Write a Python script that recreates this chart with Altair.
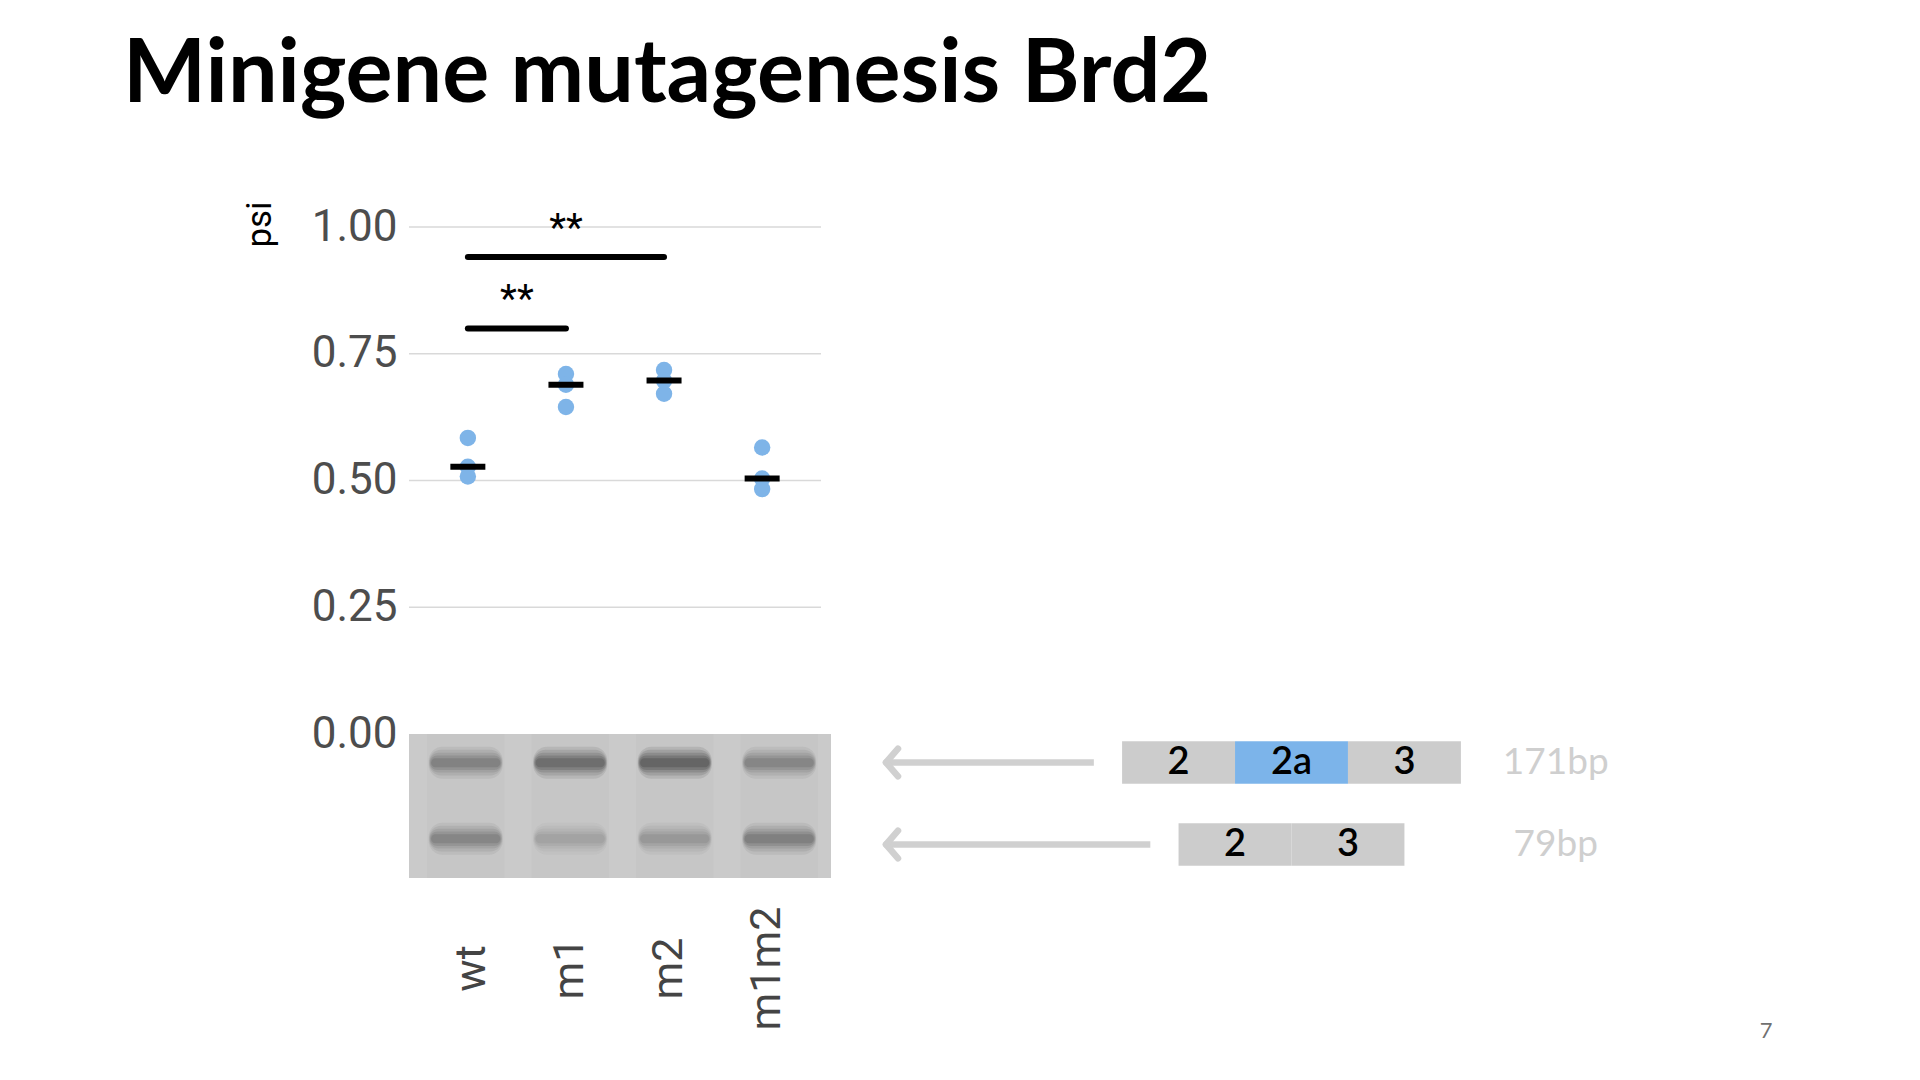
import json
import altair as alt
import pandas as pd

# ---------------- data ----------------
genotypes = ["wt", "m1", "m2", "m1m2"]
psi_wt = [0.584, 0.527, 0.508]
psi_m1 = [0.710, 0.689, 0.645]
psi_m2 = [0.718, 0.697, 0.671]
psi_m1m2 = [0.565, 0.504, 0.483]
psi_ticks = [0.0, 0.25, 0.5, 0.75, 1.0]

cmp_from = ["wt", "wt"]
cmp_to = ["m1", "m2"]
cmp_height = [0.80, 0.941]
cmp_label = ["**", "**"]

gel_rows = ["171bp", "79bp"]
band_171 = [0.55, 0.80, 0.92, 0.50]
band_79 = [0.50, 0.25, 0.33, 0.56]

iso_171 = ["2", "2a", "3"]
iso_79 = ["2", "3"]
exon_names = ["2", "2a", "3"]
page_number = "7"

# ---------------- layout / style constants ----------------
W, H = 1210, 651            # whole plot area (dot plot + gel + diagram)
DOT_W, DOT_H = 412, 507     # dot-plot panel
DOT_PAD = 0.6
LANE_STEP, LANE0 = 104.5, 56.7     # gel lane spacing / first lane centre (px)
GEL_W, GEL_H = 422, 144
GEL_ROW_STEP, GEL_ROW0 = 76, 28.7
DIA_UNIT, DIA_ZERO = 112.94, 882.5
DIA_ROW_STEP, DIA_ROW0 = 82, 28.5
ARROW_TIP = -3.59
ARROW_GAP = 0.25
BP_LABEL_X = 2.34
EXON_COLORS = ["#cccccc", "#7cb4ea", "#cccccc"]
FONT = "Roboto"
TFONT = "Lato"

# ---------------- tables ----------------
pts = pd.DataFrame(
    [
        {"genotype": g, "idx": i, "psi": v}
        for i, (g, vals) in enumerate(zip(genotypes, [psi_wt, psi_m1, psi_m2, psi_m1m2]))
        for v in vals
    ]
)
grid = pd.DataFrame({"g": [v for v in psi_ticks if v > 0]})
grid["x0"] = -DOT_PAD
grid["x1"] = len(genotypes) - 1 + DOT_PAD
cmp = pd.DataFrame(
    {
        "x1": [genotypes.index(a) for a in cmp_from],
        "x2": [genotypes.index(b) for b in cmp_to],
        "y": cmp_height,
        "label": cmp_label,
    }
)
cmp["xm"] = (cmp["x1"] + cmp["x2"]) / 2

gel = pd.DataFrame(
    [{"lane": g, "li": i, "ri": 0, "intensity": v} for i, (g, v) in enumerate(zip(genotypes, band_171))]
    + [{"lane": g, "li": i, "ri": 1, "intensity": v} for i, (g, v) in enumerate(zip(genotypes, band_79))]
)
lanes = pd.DataFrame({"lane": genotypes, "li": range(len(genotypes))})

exons = []
arrows = []
for ri, (row, iso) in enumerate(zip(gel_rows, [iso_171, iso_79])):
    n = len(iso)
    for i, ex in enumerate(iso):
        s = i - n / 2
        exons.append({"row": row, "ri": ri, "exon": ex, "start": s, "end": s + 1, "mid": s + 0.5})
    arrows.append({"row": row, "ri": ri, "tip": ARROW_TIP, "end": -n / 2 - ARROW_GAP, "lx": BP_LABEL_X})
exons = pd.DataFrame(exons)
arrows = pd.DataFrame(arrows)
heads = pd.concat([arrows.assign(side=-1), arrows.assign(side=1)], ignore_index=True)

# ---------------- scales ----------------
dot_step = DOT_W / (len(genotypes) - 1 + 2 * DOT_PAD)
xs_dot = alt.Scale(domain=[-DOT_PAD, -DOT_PAD + W / dot_step], nice=False, zero=False)
ys_dot = alt.Scale(domain=[1 - H / DOT_H, 1], nice=False, zero=False)

gel_x0 = -LANE0 / LANE_STEP
gel_x1 = (GEL_W - LANE0) / LANE_STEP
xs_gel = alt.Scale(domain=[gel_x0, (W - LANE0) / LANE_STEP], nice=False, zero=False)
gel_top = DOT_H + GEL_ROW0
gel_y0 = (DOT_H - gel_top) / GEL_ROW_STEP
gel_y1 = (DOT_H + GEL_H - gel_top) / GEL_ROW_STEP
ys_gel = alt.Scale(domain=[-gel_top / GEL_ROW_STEP, (H - gel_top) / GEL_ROW_STEP], nice=False, zero=False, reverse=True)

xs_dia = alt.Scale(domain=[-DIA_ZERO / DIA_UNIT, (W - DIA_ZERO) / DIA_UNIT], nice=False, zero=False)
dia_top = DOT_H + DIA_ROW0
ys_dia = alt.Scale(domain=[-dia_top / DIA_ROW_STEP, (H - dia_top) / DIA_ROW_STEP], nice=False, zero=False, reverse=True)

# ---------------- dot plot ----------------
label_expr = json.dumps(genotypes) + "[datum.value]"
x_axis = alt.Axis(
    values=list(range(len(genotypes))), labelExpr=label_expr, title=None, grid=False, domain=False,
    ticks=False, labelAngle=270, labelAlign="center", labelBaseline="middle",
    labelPadding=90, labelFontSize=43, labelFont=FONT, labelColor="#444444",
    labelOverlap=False, labelFlush=False, labelOffset=4,
)
y_axis = alt.Axis(
    values=psi_ticks, format=".2f", title="psi", titleFont=FONT,
    titleFontSize=35, titleFontWeight="normal", titleColor="black", titleAngle=270,
    titleX=-150, titleY=-3, titleAlign="center", titleBaseline="middle",
    labelFont=FONT, labelFontSize=44, labelColor="#4d4d4d", labelPadding=12,
    domain=False, ticks=False, grid=False,
)

gridlines = alt.Chart(grid).mark_rule(color="#d9d9d9", strokeWidth=1.3).encode(
    x=alt.X("x0:Q", scale=xs_dot, axis=x_axis), x2="x1:Q",
    y=alt.Y("g:Q", scale=ys_dot, axis=y_axis),
)
points = alt.Chart(pts).mark_circle(size=270, color="#7eb4e8", opacity=1).encode(
    x=alt.X("idx:Q", scale=xs_dot, axis=x_axis),
    y=alt.Y("psi:Q", scale=ys_dot, axis=y_axis),
)
medians = (
    alt.Chart(pts)
    .transform_aggregate(med="median(psi)", groupby=["idx"])
    .mark_tick(orient="horizontal", size=35, thickness=6, color="black", opacity=1)
    .encode(x="idx:Q", y="med:Q")
)
bars = alt.Chart(cmp).mark_rule(strokeWidth=6, strokeCap="round", color="black").encode(
    x="x1:Q", x2="x2:Q", y="y:Q"
)
stars = alt.Chart(cmp).mark_text(
    font=FONT, fontSize=39, baseline="alphabetic", dy=-16, color="black"
).encode(x="xm:Q", y="y:Q", text="label:N")

dot = alt.layer(gridlines, points, medians, bars, stars)

# ---------------- gel ----------------
gel_bg = alt.Chart(pd.DataFrame({"x0": [gel_x0], "x1": [gel_x1], "y0": [gel_y0], "y1": [gel_y1]})).mark_rect(
    color="#cacaca"
).encode(
    x=alt.X("x0:Q", scale=xs_gel, axis=None), x2="x1:Q",
    y=alt.Y("y0:Q", scale=ys_gel, axis=None), y2="y1:Q",
)
strips = (
    alt.Chart(lanes)
    .transform_calculate(a="datum.li - 0.37", b="datum.li + 0.37", c=str(gel_y0), d=str(gel_y1))
    .mark_rect(color="#c6c6c6")
    .encode(x=alt.X("a:Q", scale=xs_gel, axis=None), x2="b:Q", y=alt.Y("c:Q", scale=ys_gel, axis=None), y2="d:Q")
)


def band_layer(half_w, half_t, factor, radius):
    return (
        alt.Chart(gel)
        .transform_calculate(
            a=f"datum.li - {half_w}", b=f"datum.li + {half_w}",
            c=f"datum.ri - {half_t}", d=f"datum.ri + {half_t}",
            o=f"datum.intensity * {factor}",
        )
        .mark_rect(color="#3a3a3a", cornerRadius=radius)
        .encode(
            x=alt.X("a:Q", scale=xs_gel, axis=None), x2="b:Q",
            y=alt.Y("c:Q", scale=ys_gel, axis=None), y2="d:Q",
            opacity=alt.Opacity("o:Q", scale=None, legend=None),
        )
    )


gel_layer = alt.layer(
    gel_bg, strips,
    band_layer(0.355, 0.21, 0.14, 14),
    band_layer(0.35, 0.17, 0.17, 12),
    band_layer(0.345, 0.13, 0.21, 9),
    band_layer(0.34, 0.095, 0.26, 7),
    band_layer(0.33, 0.06, 0.32, 4),
)

# ---------------- isoform diagram ----------------
boxes = (
    alt.Chart(exons)
    .transform_calculate(c="datum.ri - 0.26", d="datum.ri + 0.26")
    .mark_rect()
    .encode(
        x=alt.X("start:Q", scale=xs_dia, axis=None), x2="end:Q",
        y=alt.Y("c:Q", scale=ys_dia, axis=None), y2="d:Q",
        color=alt.Color("exon:N", scale=alt.Scale(domain=exon_names, range=EXON_COLORS), legend=None),
    )
)
box_text = alt.Chart(exons).mark_text(
    font=TFONT, fontSize=38, color="black", baseline="middle", fontWeight=600
).encode(x=alt.X("mid:Q", scale=xs_dia, axis=None), y=alt.Y("ri:Q", scale=ys_dia, axis=None), text="exon:N")
shafts = alt.Chart(arrows).mark_rule(strokeWidth=6.5, color="#d0d0d0").encode(
    x=alt.X("tip:Q", scale=xs_dia, axis=None), x2="end:Q", y=alt.Y("ri:Q", scale=ys_dia, axis=None)
)
arms = (
    alt.Chart(heads)
    .transform_calculate(hx="datum.tip + 0.106", hy="datum.ri + datum.side * 0.168")
    .mark_rule(strokeWidth=6.5, color="#d0d0d0", strokeCap="round")
    .encode(
        x=alt.X("tip:Q", scale=xs_dia, axis=None), x2="hx:Q",
        y=alt.Y("ri:Q", scale=ys_dia, axis=None), y2="hy:Q",
    )
)
bp_text = alt.Chart(arrows).mark_text(
    font=TFONT, fontSize=37, color="#cfcfcf", baseline="middle"
).encode(x=alt.X("lx:Q", scale=xs_dia, axis=None), y=alt.Y("ri:Q", scale=ys_dia, axis=None), text="row:N")
page = alt.Chart(pd.DataFrame({"t": [page_number]})).mark_text(
    font=TFONT, fontSize=22, color="#707070", baseline="middle"
).encode(x=alt.value(1357), y=alt.value(804), text="t:N")

dia_layer = alt.layer(shafts, arms, boxes, box_text, bp_text, page)

chart = (
    alt.layer(dot, gel_layer, dia_layer)
    .resolve_scale(x="independent", y="independent", color="independent", opacity="independent")
    .properties(
        width=W, height=H, background="white",
        title=alt.Title(
            "Minigene mutagenesis Brd2", anchor="start", font=TFONT, fontSize=88,
            fontWeight="bold", color="black", offset=11, dx=-119, baseline="alphabetic",
        ),
        padding={"left": 115, "top": 23, "right": 10, "bottom": 10},
    )
    .configure_view(stroke=None)
)

chart.save("out.html", embed_options={"renderer": "svg", "actions": False})
